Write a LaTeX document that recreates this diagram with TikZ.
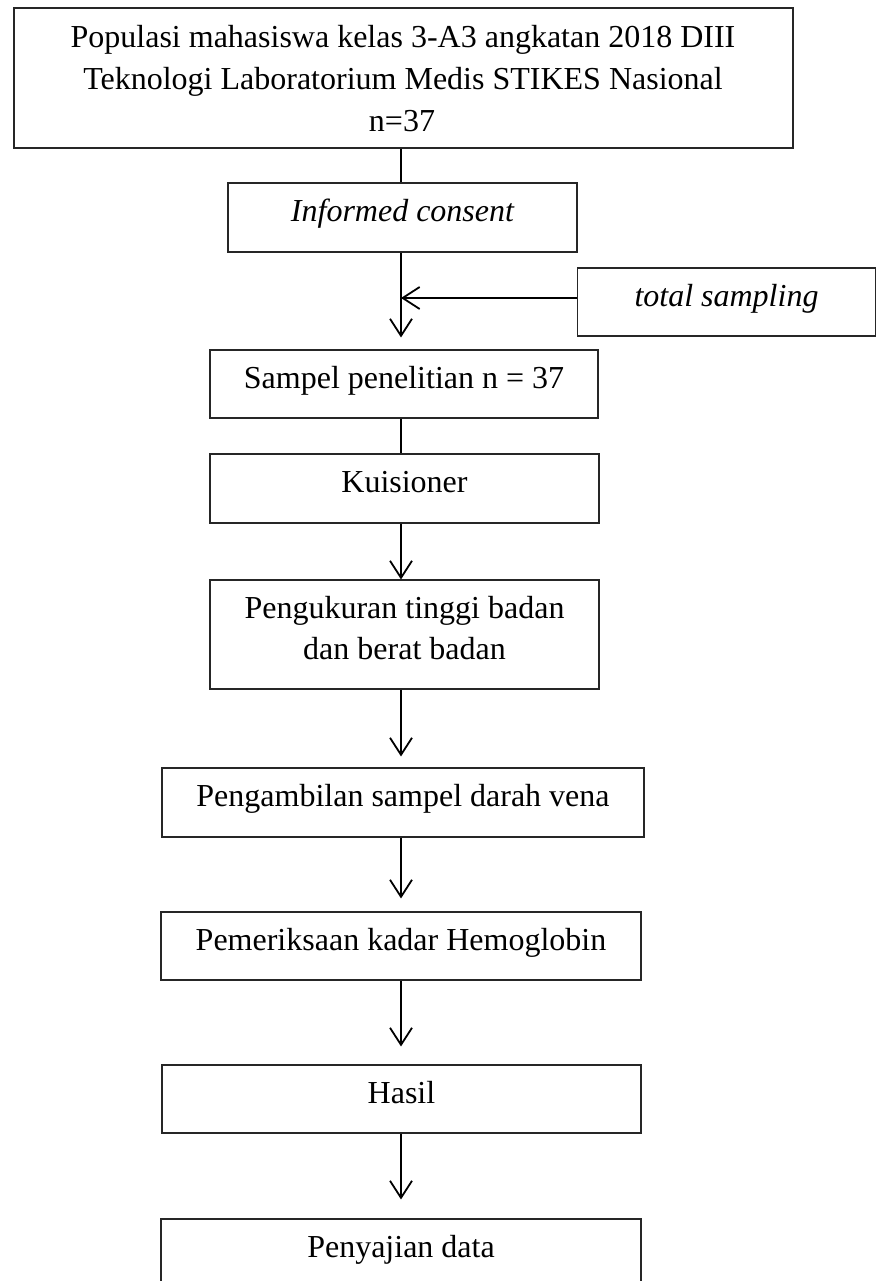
\documentclass[tikz,border=0pt]{standalone}
\usepackage{fontspec}
\setmainfont{Liberation Serif}
\usetikzlibrary{arrows.meta}
\begin{document}
\begin{tikzpicture}[x=1pt,y=-1pt,
  box/.style={draw=black!85, line width=1.1pt, rectangle, inner sep=0pt,
    font=\fontsize{32}{41}\selectfont, text height=22pt, text depth=14pt},
  txt/.style={anchor=base, inner sep=0pt, font=\fontsize{32}{41}\selectfont},
  arr/.style={line width=1.8pt, -{Straight Barb[length=17pt,width=22pt,line width=1.8pt]}},
  conn/.style={line width=1.3pt}]
\useasboundingbox (0,0) rectangle (876,1281);
\coordinate (ax) at (401,0);
\coordinate (j) at (401,298);
% boxes
\node[box, minimum width=779pt, minimum height=140pt] (b1) at (403.5,78) {};
\node[txt] (t1a) at (403,48) {Populasi mahasiswa kelas 3-A3 angkatan 2018 DIII};
\node[txt] (t1b) at (403,90) {Teknologi Laboratorium Medis STIKES Nasional};
\node[txt] (t1c) at (402,132) {n=37};
\node[box, minimum width=349pt, minimum height=69pt] (b2) at (402.5,217.5) {\itshape Informed consent};
\node[box, minimum width=298pt, minimum height=68pt] (ts) at (726.5,302) {\itshape total sampling};
\node[box, minimum width=388pt, minimum height=68pt] (b3) at (404,384) {Sampel penelitian n = 37};
\node[box, minimum width=389pt, minimum height=69pt] (b4) at (404.5,488.5) {Kuisioner};
\node[box, minimum width=389pt, minimum height=109pt] (b5) at (404.5,634.5) {};
\node[txt] (t5a) at (404.5,618) {Pengukuran tinggi badan};
\node[txt] (t5b) at (404.5,659) {dan berat badan};
\node[box, minimum width=482pt, minimum height=69pt] (b6) at (403,802.5) {Pengambilan sampel darah vena};
\node[box, minimum width=480pt, minimum height=68pt] (b7) at (401,946) {Pemeriksaan kadar Hemoglobin};
\node[box, minimum width=479pt, minimum height=68pt] (b8) at (401.5,1099) {Hasil};
\node[box, minimum width=480pt, minimum height=80pt] (b9) at (401,1259) {};
\node[txt] (t9) at (401,1257) {Penyajian data};
% connectors
\draw[conn] (b1.south -| ax) -- (b2.north -| ax);
\draw[arr, shorten >=12pt] (b2.south -| ax) -- (b3.north -| ax);
\draw[arr] (ts.west |- j) -- (j);
\draw[conn] (b3.south -| ax) -- (b4.north -| ax);
\draw[arr] (b4.south -| ax) -- (b5.north -| ax);
\draw[arr, shorten >=11pt] (b5.south -| ax) -- (b6.north -| ax);
\draw[arr, shorten >=13pt] (b6.south -| ax) -- (b7.north -| ax);
\draw[arr, shorten >=18pt] (b7.south -| ax) -- (b8.north -| ax);
\draw[arr, shorten >=19pt] (b8.south -| ax) -- (b9.north -| ax);
\end{tikzpicture}
\end{document}
